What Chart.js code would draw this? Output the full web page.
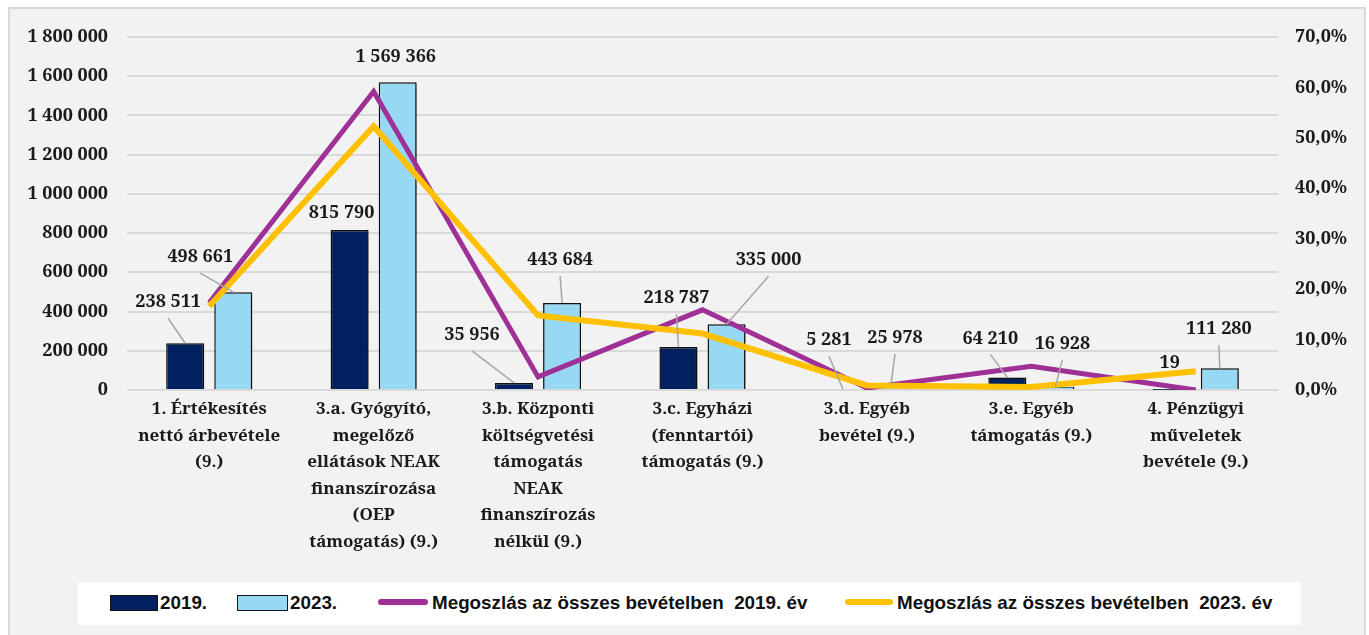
<!DOCTYPE html>
<html>
<head>
<meta charset="utf-8">
<script src="https://cdn.jsdelivr.net/npm/chart.js@4"></script>
<style>
  body { margin: 0; width: 1369px; height: 635px; background: #fff; overflow: hidden; position: relative; }
  #frame { position: absolute; left: 8px; top: 7px; width: 1358px; height: 640px; background: #f2f2f2; border: 2px solid #d9d9d9; box-sizing: border-box; }
  #chartBox { position: absolute; left: 0; top: 0; width: 1369px; height: 635px; }
  #legend { position: absolute; left: 78px; top: 582px; width: 1223px; height: 43px; background: #fff; }
  #legend .sw { position: absolute; }
  #legend .txt { position: absolute; top: 10px; font-family: "Liberation Sans", Arial, sans-serif; font-weight: bold; font-size: 19px; color: #111; line-height: 22px; white-space: nowrap; transform-origin: 0 50%; transform: scaleX(0.99); }
</style>
</head>
<body>
<div id="frame"></div>
<div id="chartBox"><canvas id="revenueChart" width="1369" height="635"></canvas></div>
<div id="legend">
  <div class="sw" style="left:32px;top:13px;width:46px;height:14px;background:#002060;border:1.5px solid #111;"></div>
  <div class="txt" style="left:82px;">2019.</div>
  <div class="sw" style="left:159px;top:13px;width:49px;height:14px;background:#97d9f5;border:1.5px solid #111;"></div>
  <div class="txt" style="left:212px;">2023.</div>
  <div class="sw" style="left:300px;top:17px;width:50px;height:6px;background:#9e3096;border-radius:3px;"></div>
  <div class="txt" style="left:354px;">Megoszlás az összes bevételben&nbsp; 2019. év</div>
  <div class="sw" style="left:767px;top:17px;width:48px;height:6px;background:#ffc000;border-radius:3px;"></div>
  <div class="txt" style="left:819px;">Megoszlás az összes bevételben&nbsp; 2023. év</div>
</div>
<script>
// ---------------- data ----------------
const categories = [
	['1. Értékesítés', 'nettó árbevétele', '(9.)'],
	['3.a. Gyógyító,', 'megelőző', 'ellátások NEAK', 'finanszírozása', '(OEP', 'támogatás) (9.)'],
	['3.b. Központi', 'költségvetési', 'támogatás', 'NEAK', 'finanszírozás', 'nélkül (9.)'],
	['3.c. Egyházi', '(fenntartói)', 'támogatás (9.)'],
	['3.d. Egyéb', 'bevétel (9.)'],
	['3.e. Egyéb', 'támogatás (9.)'],
	['4. Pénzügyi', 'műveletek', 'bevétele (9.)']
];

const revenue2019 = [238511, 815790, 35956, 218787, 5281, 64210, 19];
const revenue2023 = [498661, 1569366, 443684, 335000, 25978, 16928, 111280];

// share of total revenue, percent
const share2019 = [17.3, 59.2, 2.6, 15.9, 0.4, 4.7, 0.0];
const share2023 = [16.6, 52.3, 14.8, 11.2, 0.9, 0.6, 3.7];

const leftTicksMax = 1800000;
const rightTicksMax = 70;

// label placement relative to the top of each bar (dx, dy)
const labelOffsets2019 = [[-17, -41], [-8, -17], [-42, -48], [-2, -49], [-14, -49], [-17, -39], [-2, -27]];
const labelOffsets2023 = [[-33, -35], [-2, -25], [-2, -43], [42, -64], [4, -47], [7, -43], [-1, -39]];

// ---------------- helpers ----------------
const serif = "'Noto Serif', 'Liberation Serif', serif";
const fmt = n => String(n).replace(/\B(?=(\d{3})+(?!\d))/g, ' ');

const barShadow = {
	id: 'barShadow',
	beforeDatasetDraw(chart, args) {
		if (chart.data.datasets[args.index].type !== 'bar') return;
		const ctx = chart.ctx;
		ctx.save();
		ctx.shadowColor = 'rgba(0,0,0,0.35)';
		ctx.shadowBlur = 5;
		ctx.shadowOffsetX = 4;
		ctx.shadowOffsetY = 2;
	},
	afterDatasetDraw(chart, args) {
		if (chart.data.datasets[args.index].type !== 'bar') return;
		chart.ctx.restore();
	}
};

const barLabels = {
	id: 'barLabels',
	afterDatasetsDraw(chart) {
		const ctx = chart.ctx;
		const sets = [[0, revenue2019, labelOffsets2019], [1, revenue2023, labelOffsets2023]];
		ctx.save();
		ctx.font = 'bold 18px ' + serif;
		ctx.textAlign = 'center';
		ctx.textBaseline = 'middle';
		sets.forEach(([idx, values, offs]) => {
			chart.getDatasetMeta(idx).data.forEach((el, i) => {
				const lx = el.x + offs[i][0];
				const ly = el.y + offs[i][1];
				if (offs[i][1] < -32) {
					ctx.strokeStyle = '#a6a6a6';
					ctx.lineWidth = 1.5;
					ctx.beginPath();
					ctx.moveTo(lx, ly + 16);
					ctx.lineTo(el.x, el.y);
					ctx.stroke();
				}
				ctx.fillStyle = '#1a1a1a';
				ctx.fillText(fmt(values[i]), lx, ly);
			});
		});
		ctx.restore();
	}
};

// ---------------- chart ----------------
function createRevenueChart() {
	const ctx = document.getElementById('revenueChart').getContext('2d');
	const data = {
		labels: categories,
		datasets: [
			{
				type: 'bar',
				label: '2019.',
				data: revenue2019,
				backgroundColor: '#002060',
				borderColor: '#111',
				borderWidth: 1.5,
				yAxisID: 'y',
				order: 2
			},
			{
				type: 'bar',
				label: '2023.',
				data: revenue2023,
				backgroundColor: '#97d9f5',
				borderColor: '#111',
				borderWidth: 1.5,
				yAxisID: 'y',
				order: 2
			},
			{
				type: 'line',
				label: 'Megoszlás az összes bevételben 2019. év',
				data: share2019,
				borderColor: '#9e3096',
				borderWidth: 5,
				pointRadius: 0,
				tension: 0,
				yAxisID: 'y1',
				order: 1
			},
			{
				type: 'line',
				label: 'Megoszlás az összes bevételben 2023. év',
				data: share2023,
				borderColor: '#ffc000',
				borderWidth: 6,
				pointRadius: 0,
				tension: 0,
				yAxisID: 'y1',
				order: 0
			}
		]
	};
	const config = {
		data: data,
		options: {
			responsive: false,
			animation: false,
			layout: { padding: { top: 37, left: 0, right: 0, bottom: 0 } },
			datasets: {
				bar: { categoryPercentage: 0.585, barPercentage: 0.79 }
			},
			scales: {
				x: {
					grid: { display: false, drawTicks: false },
					border: { display: false },
					ticks: {
						padding: 6,
						maxRotation: 0,
						autoSkip: false,
						color: '#1a1a1a',
						font: { family: serif, size: 17, weight: 'bold', lineHeight: 1.56 }
					},
					afterFit(scale) { scale.height = 245; }
				},
				y: {
					position: 'left',
					min: 0,
					max: leftTicksMax,
					grid: { color: '#d9d9d9', lineWidth: 2, drawTicks: false },
					border: { display: false },
					ticks: {
						stepSize: 200000,
						padding: 19,
						color: '#1a1a1a',
						font: { family: serif, size: 18, weight: 'bold' },
						callback: v => fmt(v)
					},
					afterFit(scale) { scale.width = 127; }
				},
				y1: {
					position: 'right',
					min: 0,
					max: rightTicksMax,
					grid: { display: false, drawTicks: false },
					border: { display: false },
					ticks: {
						stepSize: 10,
						padding: 17,
						color: '#1a1a1a',
						font: { family: serif, size: 18, weight: 'bold' },
						callback: v => v.toFixed(1).replace('.', ',') + '%'
					},
					afterFit(scale) { scale.width = 91; }
				}
			},
			plugins: {
				legend: { display: false },
				tooltip: { enabled: false }
			}
		},
		plugins: [barShadow, barLabels]
	};
	return new Chart(ctx, config);
}

window.addEventListener('load', () => {
	createRevenueChart();
});
</script>
</body>
</html>
